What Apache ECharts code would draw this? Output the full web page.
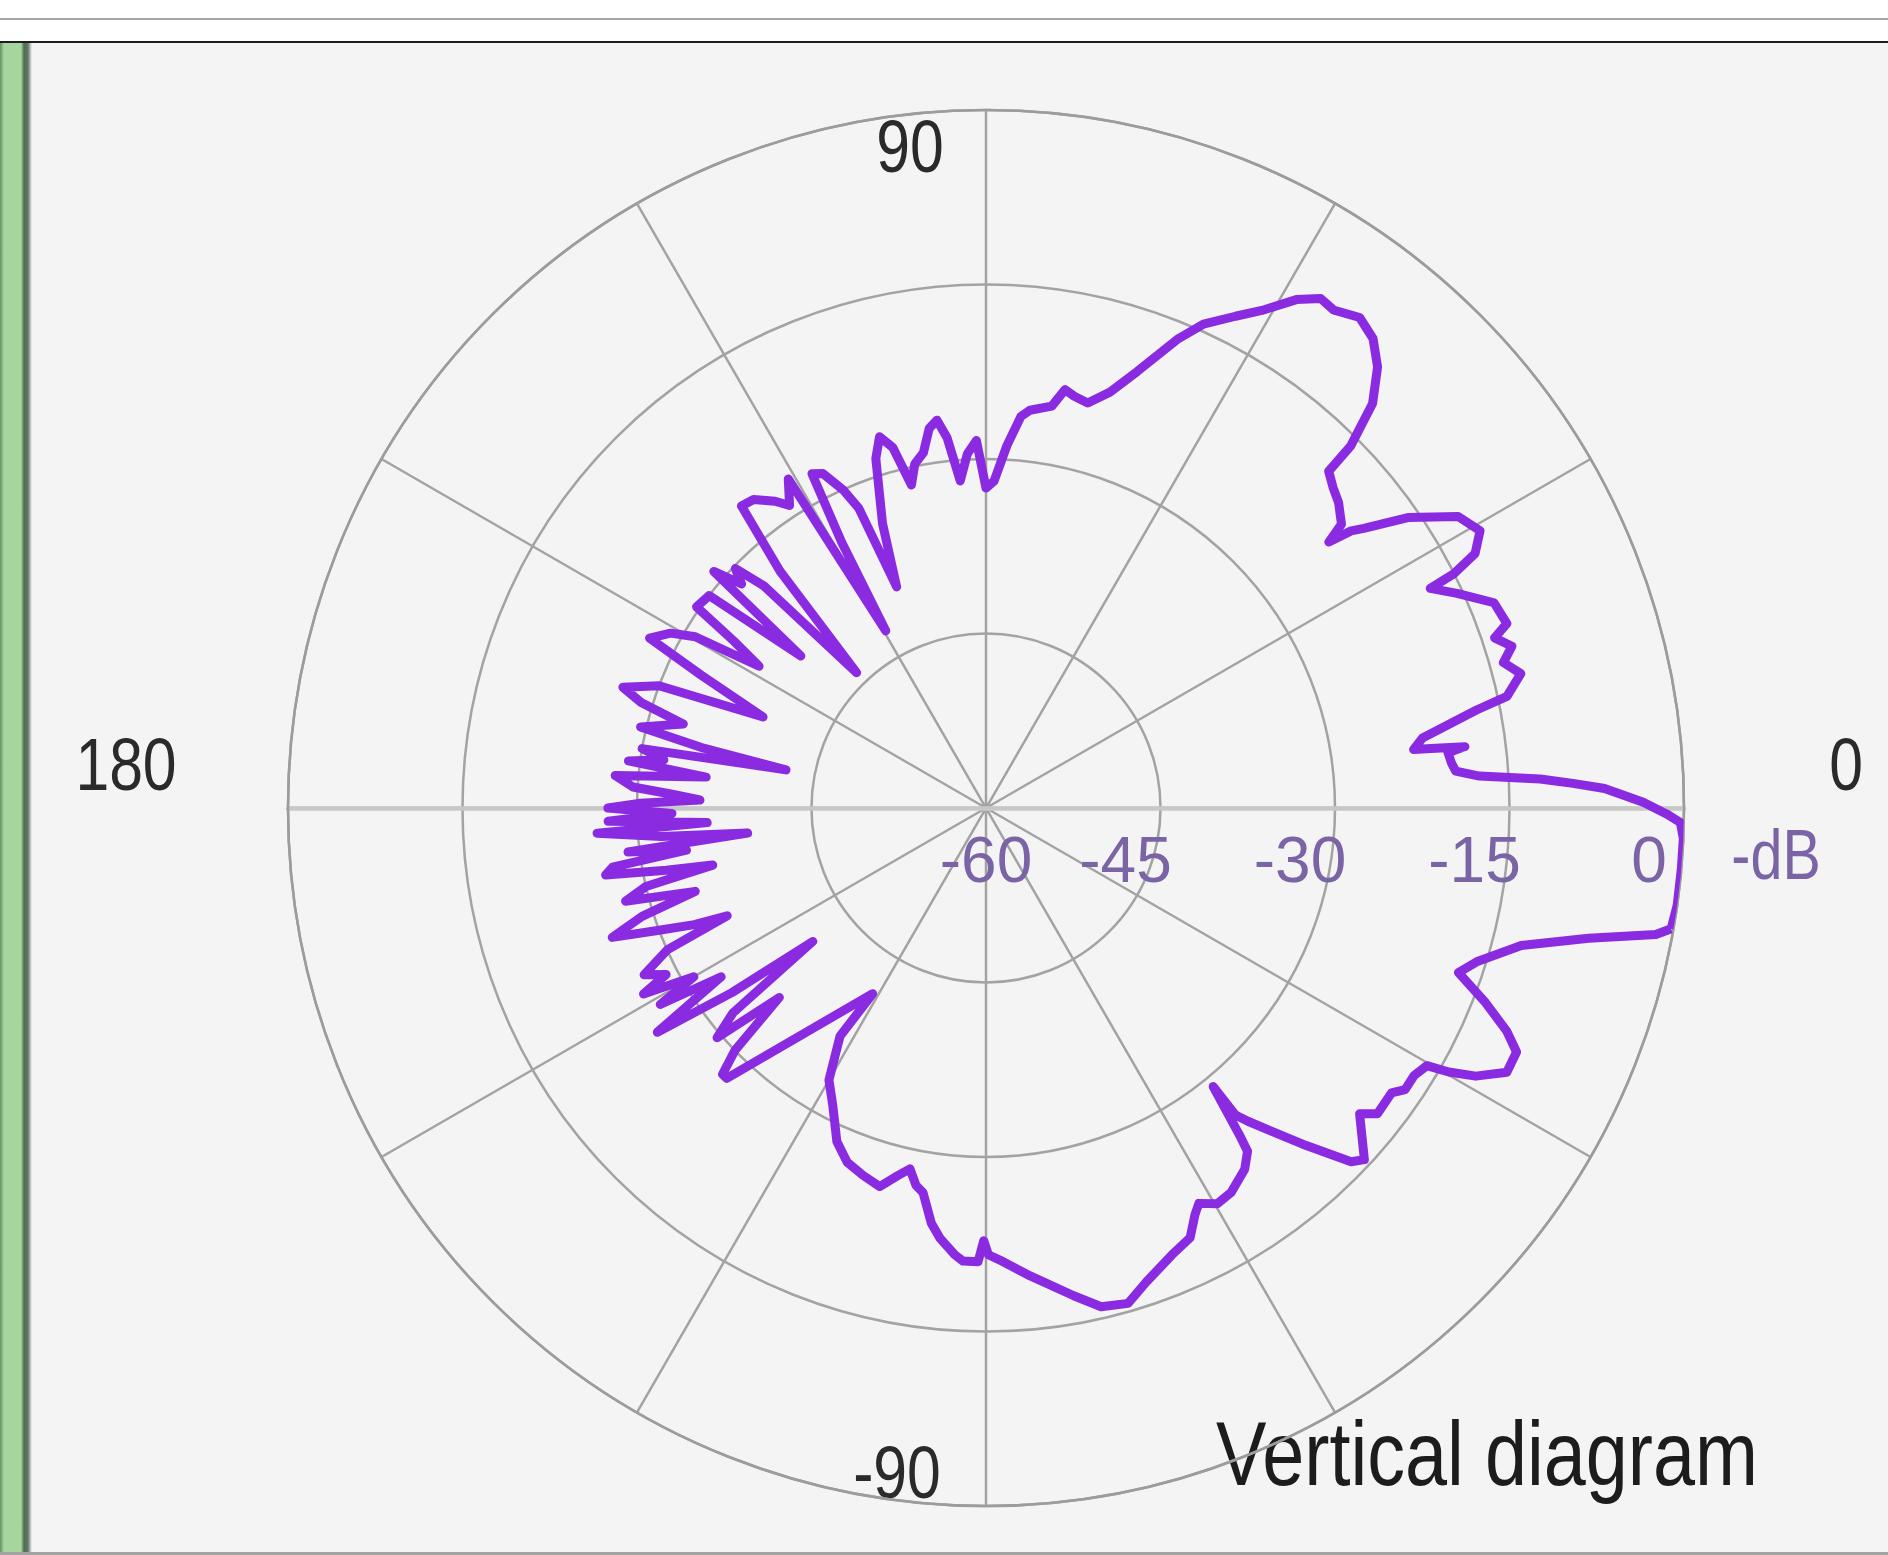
<!DOCTYPE html>
<html>
<head>
<meta charset="utf-8">
<script src="https://cdn.jsdelivr.net/npm/echarts@6/dist/echarts.min.js"></script>
<style>
  html, body { margin: 0; padding: 0; background: #ffffff; width: 1888px; height: 1555px; overflow: hidden; }
  #topline { position: absolute; left: 0; top: 18px; width: 1888px; height: 2px; background: #a6a6a6; }
  #panel { position: absolute; left: 0; top: 41px; width: 1888px; height: 1509px; background: #f4f4f4; border-top: 2px solid #1e1e1e; border-bottom: 3px solid #a3a3a3; }
  #greenbar { position: absolute; left: 0; top: 43px; width: 32px; height: 1509px;
    background: linear-gradient(to right, #5f905f 0px, #a6d69e 4px, #a6d69e 21px, #4e6b4e 24px, #62786a 28px, #f4f4f4 32px); }
  #chart { position: absolute; left: 0; top: 0; width: 1888px; height: 1555px; }
</style>
</head>
<body>
<div id="topline"></div>
<div id="panel"></div>
<div id="greenbar"></div>
<div id="chart"></div>
<script>
// Elevation angle (deg, 0 = horizon, 90 = up) in drawing order, and the gain (dB) at each angle
const angles = [
  -10.0, -8.0, -5.0, -2.5, -1.2, -0.5, 0.5, 1.2, 1.8, 2.4, 3.0, 3.7, 4.5, 5.5, 6.8, 7.3, 7.6, 7.8, 9.1,
  11.3, 12.1, 14.1, 15.7, 17.1, 18.5, 19.5, 22.0, 24.5, 26.3, 26.6, 27.5, 29.3, 31.7, 34.5, 36.5, 37.2,
  37.8, 38.6, 40.9, 42.7, 44.5, 44.8, 46.3, 48.4, 50.5, 52.7, 55.1, 56.7, 58.6, 61.0, 63.1, 65.8, 67.8,
  70.9, 73.4, 75.9, 77.9, 79.3, 80.7, 83.7, 84.9, 86.7, 88.6, 90.0,
  91.5, 93.0, 94.5, 96.0, 97.2, 98.5, 100.0, 101.7, 103.0, 104.5, 106.0, 107.5, 110.0, 112.0, 113.0,
  114.2, 116.0, 117.5, 118.5, 119.5, 121.0, 123.0, 124.5, 127.0, 129.0, 131.0, 133.7, 135.0, 136.3,
  137.5, 139.0, 140.6, 142.5, 145.2, 146.5, 148.0, 149.5, 151.0, 153.2, 155.0, 157.8, 159.5, 161.6,
  163.0, 164.5, 166.8, 168.0, 169.2, 170.2, 171.5, 172.5, 173.7, 175.0, 176.6, 177.5, 178.4, 179.2, 180.0,
  -179.0, -178.0, -177.0, -176.3, -175.0, -174.0, -173.0, -172.0, -171.0, -170.0, -169.0, -168.2, -167.0,
  -165.5, -164.0, -162.5, -160.9, -159.5, -158.2, -157.4, -156.0, -154.0, -152.5, -151.5, -150.0, -148.9,
  -147.5, -145.7, -144.0, -142.4, -141.0, -139.5, -137.5, -136.0, -134.7, -133.8, -121.4, -122.6, -120.0,
  -117.2, -114.1, -111.4, -108.5, -105.7, -103.5, -101.9, -100.5, -99.3, -97.5, -96.1, -94.0, -92.9, -91.0,
  -90.3, -89.7,
  -87.9, -84.6, -79.8, -77.0, -74.0, -71.3, -67.4, -64.6, -62.8, -61.7, -59.7, -57.5, -54.4, -52.7, -52.2,
  -50.8, -50.9, -50.1, -48.6, -46.5, -44.1, -42.9, -39.3, -38.0, -35.1, -33.9, -32.0, -30.3, -29.7, -28.7,
  -26.9, -24.7, -23.2, -21.3, -19.2, -17.4, -14.4, -12.2, -10.7, -10.0
];
const gains = [
  -0.2, 0, 0, 0, -0.3, -1.5, -3.5, -5.3, -6.8, -9.5, -12.3, -17.5, -19.5, -19.8, -20.0, -18.5, -21.4, -22.9, -22.0,
  -17.0, -14.2, -12.6, -13.8, -12.7, -13.9, -12.5, -12.9, -15.5, -17.4, -15.0, -12.6, -11.3, -12.3, -15.9, -19.6, -20.6,
  -22.7, -20.9, -19.9, -19.4, -18.7, -15.8, -11.9, -9.3, -7.7, -7.0, -7.8, -7.6, -8.8, -11.1, -12.6, -14.4, -16.5,
  -20.3, -22.7, -24.1, -23.8, -23.4, -25.0, -25.6, -26.2, -28.8, -31.9, -32.5,
  -28.4, -29.5, -31.8, -28.0, -26.4, -27.0, -29.0, -29.8, -31.5, -28.0, -26.8, -28.5, -34.0, -39.5, -32.0,
  -30.0, -28.0, -27.6, -34.0, -42.5, -27.0, -29.0, -28.0, -26.8, -26.6, -33.0, -43.9, -33.0, -30.2,
  -31.5, -29.0, -39.4, -30.0, -29.7, -34.0, -37.0, -31.0, -29.0, -27.6, -33.0, -39.3, -30.0, -27.1,
  -29.0, -33.0, -29.5, -35.0, -42.5, -30.0, -32.0, -29.0, -35.8, -28.0, -29.6, -33.0, -35.4, -30.3, -27.5,
  -33.0, -27.5, -36.0, -26.5, -32.0, -39.4, -29.0, -34.0, -27.5, -26.8, -32.0, -36.0, -30.0,
  -28.0, -34.0, -29.0, -26.0, -30.0, -33.0, -35.9, -30.0, -27.3, -29.0, -26.5, -31.0, -27.3,
  -33.0, -25.8, -33.0, -41.2, -32.0, -29.6, -35.9, -30.0, -27.8, -27.8, -41.3, -36.7, -33.0,
  -31.2, -28.6, -27.3, -26.7, -26.2, -27.5, -28.3, -27.0, -26.5, -24.0, -22.8, -21.5, -21.0, -21.0,
  -22.8, -21.6,
  -21.0, -19.6, -17.4, -16.0, -15.7, -17.0, -18.4, -19.1, -20.7, -21.4, -20.6, -20.8, -21.8, -22.9, -24.5,
  -29.1, -26.0, -24.9, -23.0, -20.0, -16.3, -15.6, -18.5, -17.3, -17.4, -16.6, -16.6, -16.1, -14.2, -12.0,
  -9.8, -9.8, -11.3, -13.9, -17.0, -15.8, -12.5, -7.0, -1.4, -0.2
];
// Axis settings
const radiusMin = -60, radiusMax = 0, radiusStep = 15;
const angleStep = 30;
const angleLabels = ['90', '180', '0', '-90'];
const unitLabel = '-dB';
const chartTitle = 'Vertical diagram';

const FONT = "'Liberation Sans', Arial, sans-serif";
const GRID = '#a3a3a3';
const RLABEL = '#7a64a6';

const seriesData = angles.map((a, i) => [gains[i], a < 0 ? a + 360 : a]);

function narrowText(x, y, text, size, color, align, sx) {
  return {
    type: 'text', x: x, y: y, scaleX: sx || 0.82, scaleY: 1,
    style: {
      text: text, fill: color, font: size + 'px ' + FONT,
      align: align || 'center', verticalAlign: 'middle',
      textAlign: align || 'center', textVerticalAlign: 'middle'
    }
  };
}

const labelFont = { color: RLABEL, fontFamily: FONT, fontSize: 64 };

const chart = echarts.init(document.getElementById('chart'), null, { renderer: 'canvas' });
chart.setOption({
  animation: false,
  backgroundColor: 'transparent',
  polar: [
    { center: [986, 808], radius: 698 },
    { center: [986, 808], radius: 698 }
  ],
  angleAxis: [
    {
      polarIndex: 0, type: 'value', min: 0, max: 360, interval: angleStep,
      startAngle: 0, clockwise: false,
      axisLine: { show: true, lineStyle: { color: '#9c9c9c', width: 2.5 } },
      axisTick: { show: false }, axisLabel: { show: false },
      splitLine: { show: true, lineStyle: { color: GRID, width: 2.5 } }
    },
    {
      polarIndex: 1, type: 'value', min: 0, max: 360,
      startAngle: 180, clockwise: false,
      axisLine: { show: false }, axisTick: { show: false }, axisLabel: { show: false },
      splitLine: { show: false }
    }
  ],
  radiusAxis: [
    {
      polarIndex: 0, type: 'value', min: radiusMin, max: radiusMax, interval: radiusStep,
      axisLine: { show: true, lineStyle: { color: '#c8c8c8', width: 4.5 } },
      axisTick: { show: false },
      splitLine: { show: true, lineStyle: { color: GRID, width: 2.5 } },
      axisLabel: {
        show: true, color: RLABEL, fontFamily: FONT, fontSize: 64,
        margin: -56, verticalAlign: 'middle', align: 'center',
        formatter: function (v) { return v === radiusMin ? '{c|' + v + '}' : '{n|' + v + '}'; },
        rich: {
          c: Object.assign({ padding: [0, 0, 0, 0] }, labelFont),
          n: Object.assign({ padding: [0, 70, 0, 0] }, labelFont)
        }
      }
    },
    {
      polarIndex: 1, type: 'value', min: radiusMin, max: radiusMax,
      axisLine: { show: true, lineStyle: { color: '#c8c8c8', width: 4.5 } },
      axisTick: { show: false }, axisLabel: { show: false }, splitLine: { show: false }
    }
  ],
  graphic: [
    narrowText(910, 152, angleLabels[0], 74, '#2a2a2a'),
    narrowText(126, 770, angleLabels[1], 74, '#2a2a2a'),
    narrowText(1846, 770, angleLabels[2], 74, '#2a2a2a'),
    narrowText(897, 1478, angleLabels[3], 74, '#2a2a2a'),
    narrowText(1776, 860, unitLabel, 70, RLABEL),
    narrowText(1216, 1460, chartTitle, 90, '#1c1c1c', 'left', 0.84)
  ],
  series: [{
    type: 'line', coordinateSystem: 'polar', polarIndex: 0,
    data: seriesData.concat([seriesData[0]]),
    showSymbol: false, symbol: 'none', smooth: false, z: 3,
    lineStyle: { color: '#8a2be2', width: 9, join: 'round' }
  }]
});
</script>
</body>
</html>
